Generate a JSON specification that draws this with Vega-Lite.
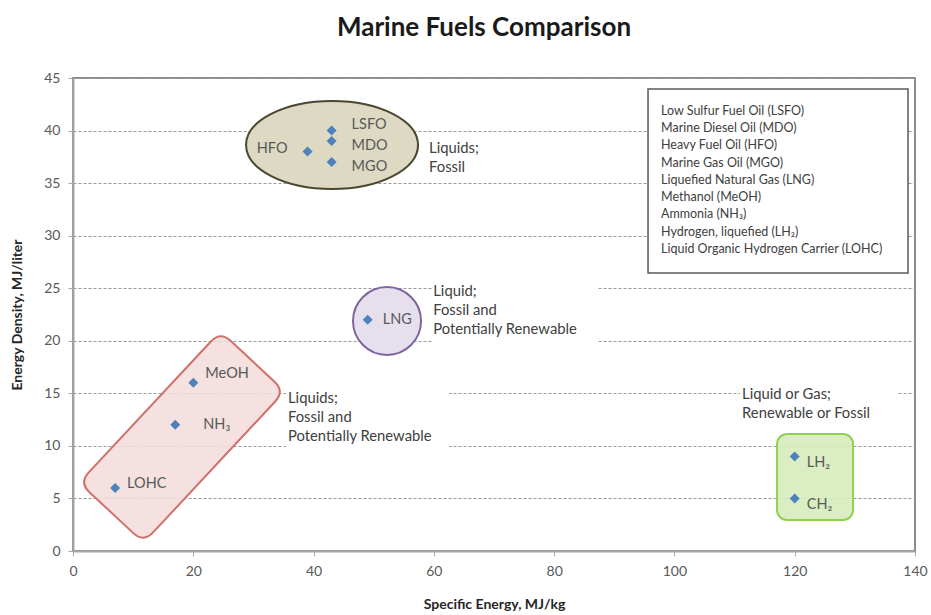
{
  "$schema": "https://vega.github.io/schema/vega-lite/v6.json",
  "width": 842,
  "height": 473,
  "autosize": {"type": "none"},
  "padding": {"left": 73, "top": 78, "right": 16, "bottom": 64},
  "background": "white",
  "config": {
    "font": "Lato",
    "view": {"stroke": "#8c8c8c", "strokeWidth": 2}
  },
  "title": {
    "text": "Marine Fuels Comparison",
    "fontSize": 26,
    "fontWeight": "bold",
    "color": "#1a1a1a",
    "anchor": "middle",
    "offset": 30,
    "dx": -10
  },
  "datasets": {
    "fuels": [
      {"fuel": "LSFO", "label": "LSFO", "specific_energy": 43, "energy_density": 40},
      {"fuel": "MDO", "label": "MDO", "specific_energy": 43, "energy_density": 39},
      {"fuel": "HFO", "label": "HFO", "specific_energy": 39, "energy_density": 38},
      {"fuel": "MGO", "label": "MGO", "specific_energy": 43, "energy_density": 37},
      {"fuel": "LNG", "label": "LNG", "specific_energy": 49, "energy_density": 22},
      {"fuel": "MeOH", "label": "MeOH", "specific_energy": 20, "energy_density": 16},
      {"fuel": "NH3", "label": "NH₃", "specific_energy": 17, "energy_density": 12},
      {"fuel": "LOHC", "label": "LOHC", "specific_energy": 7, "energy_density": 6},
      {"fuel": "LH2", "label": "LH₂", "specific_energy": 120, "energy_density": 9},
      {"fuel": "CH2", "label": "CH₂", "specific_energy": 120, "energy_density": 5}
    ],
    "regions": [
      {"region": "fossil_liquids", "specific_energy": 43.07, "energy_density": 38.63},
      {"region": "lng", "specific_energy": 52.21, "energy_density": 21.88},
      {"region": "alt_liquids", "specific_energy": 18.12, "energy_density": 10.85}
    ],
    "hydrogen_box": [
      {"specific_energy": 117.06, "specific_energy_end": 129.7, "energy_density": 2.95, "energy_density_end": 11.13}
    ],
    "note_backgrounds": [
      {"specific_energy": 59.69, "specific_energy_end": 87.13, "energy_density": 25.4, "energy_density_end": 19.31},
      {"specific_energy": 35.42, "specific_energy_end": 62.52, "energy_density": 15.89, "energy_density_end": 9.42},
      {"specific_energy": 110.9, "specific_energy_end": 137.2, "energy_density": 15.98, "energy_density_end": 12.46}
    ],
    "legend_box": [
      {"specific_energy": 95.61, "specific_energy_end": 138.84, "energy_density": 43.95, "energy_density_end": 26.45}
    ],
    "notes": [
      {"specific_energy": 59.2, "energy_density": 37.87, "note": "Liquids;\nFossil"},
      {"specific_energy": 59.9, "energy_density": 24.26, "note": "Liquid;\nFossil and\nPotentially Renewable"},
      {"specific_energy": 35.75, "energy_density": 14.08, "note": "Liquids;\nFossil and\nPotentially Renewable"},
      {"specific_energy": 111.24, "energy_density": 14.46, "note": "Liquid or Gas;\nRenewable or Fossil"}
    ],
    "legend_text": [
      {"specific_energy": 97.77, "energy_density": 41.48, "note": "Low Sulfur Fuel Oil (LSFO)\nMarine Diesel Oil (MDO)\nHeavy Fuel Oil (HFO)\nMarine Gas Oil (MGO)\nLiquefied Natural Gas (LNG)\nMethanol (MeOH)\nAmmonia (NH₃)\nHydrogen, liquefied (LH₂)\nLiquid Organic Hydrogen Carrier (LOHC)"}
    ]
  },
  "encoding": {
    "x": {
      "field": "specific_energy",
      "type": "quantitative",
      "title": "Specific Energy, MJ/kg",
      "scale": {"domain": [0, 140], "nice": false, "zero": true},
      "axis": {
        "values": [0, 20, 40, 60, 80, 100, 120, 140],
        "grid": false,
        "labelFlush": false,
        "labelOverlap": false,
        "labelFontSize": 14,
        "labelColor": "#595959",
        "labelPadding": 8,
        "tickSize": 5,
        "tickColor": "#a6a6a6",
        "domainColor": "#a6a6a6",
        "domainWidth": 2,
        "titleFontSize": 14,
        "titleFontWeight": "bold",
        "titleColor": "#262626",
        "titlePadding": 19
      }
    },
    "y": {
      "field": "energy_density",
      "type": "quantitative",
      "title": "Energy Density, MJ/liter",
      "scale": {"domain": [0, 45], "nice": false, "zero": true},
      "axis": {
        "values": [0, 5, 10, 15, 20, 25, 30, 35, 40, 45],
        "grid": true,
        "gridColor": "#9a9a9a",
        "gridDash": [3, 2],
        "gridWidth": 1,
        "labelFlush": false,
        "labelOverlap": false,
        "labelFontSize": 14,
        "labelColor": "#595959",
        "labelPadding": 8,
        "tickSize": 5,
        "tickColor": "#a6a6a6",
        "domainColor": "#a6a6a6",
        "domainWidth": 2,
        "titleFontSize": 14,
        "titleFontWeight": "bold",
        "titleColor": "#262626",
        "titlePadding": 19
      }
    }
  },
  "layer": [
    {
      "data": {"name": "note_backgrounds"},
      "mark": {"type": "rect", "fill": "white", "strokeWidth": 0},
      "encoding": {
        "x2": {"field": "specific_energy_end"},
        "y2": {"field": "energy_density_end"}
      }
    },
    {
      "data": {"name": "legend_box"},
      "mark": {"type": "rect", "fill": "white", "stroke": "#595959", "strokeWidth": 1.5},
      "encoding": {
        "x2": {"field": "specific_energy_end"},
        "y2": {"field": "energy_density_end"}
      }
    },
    {
      "data": {"name": "regions"},
      "transform": [{"filter": "datum.region === 'fossil_liquids'"}],
      "mark": {
        "type": "point",
        "shape": "M -1 0 C -1 -0.2826 -0.5523 -0.5116 0 -0.5116 C 0.5523 -0.5116 1 -0.2826 1 0 C 1 0.2826 0.5523 0.5116 0 0.5116 C -0.5523 0.5116 -1 0.2826 -1 0 Z",
        "size": 29584,
        "filled": true,
        "fill": "#ddd9c3",
        "fillOpacity": 1,
        "stroke": "#4a4630",
        "strokeWidth": 2,
        "opacity": 1
      }
    },
    {
      "data": {"name": "regions"},
      "transform": [{"filter": "datum.region === 'lng'"}],
      "mark": {
        "type": "point",
        "shape": "circle",
        "size": 4624,
        "filled": true,
        "fill": "#e6e0ec",
        "fillOpacity": 1,
        "stroke": "#8064a2",
        "strokeWidth": 2,
        "opacity": 1
      }
    },
    {
      "data": {"name": "regions"},
      "transform": [{"filter": "datum.region === 'alt_liquids'"}],
      "mark": {
        "type": "point",
        "shape": "M -0.865 -0.425 L 0.865 -0.425 Q 1 -0.425 1 -0.29 L 1 0.29 Q 1 0.425 0.865 0.425 L -0.865 0.425 Q -1 0.425 -1 0.29 L -1 -0.29 Q -1 -0.425 -0.865 -0.425 Z",
        "size": 42849,
        "angle": 313,
        "filled": true,
        "fill": "#f2dcdb",
        "fillOpacity": 0.85,
        "stroke": "#d0706c",
        "strokeWidth": 2,
        "opacity": 1
      }
    },
    {
      "data": {"name": "hydrogen_box"},
      "mark": {
        "type": "rect",
        "cornerRadius": 10,
        "fill": "#d7ebbb",
        "fillOpacity": 0.9,
        "stroke": "#92d050",
        "strokeWidth": 2
      },
      "encoding": {
        "x2": {"field": "specific_energy_end"},
        "y2": {"field": "energy_density_end"}
      }
    },
    {
      "data": {"name": "fuels"},
      "mark": {"type": "point", "shape": "diamond", "size": 100, "filled": true, "color": "#4f81bd", "opacity": 1}
    },
    {
      "data": {"name": "fuels"},
      "transform": [{"filter": {"field": "fuel", "oneOf": ["LSFO"]}}],
      "mark": {"type": "text", "align": "left", "dx": 20, "dy": -6, "fontSize": 14.5, "color": "#595959"},
      "encoding": {"text": {"field": "label"}}
    },
    {
      "data": {"name": "fuels"},
      "transform": [{"filter": {"field": "fuel", "oneOf": ["MeOH"]}}],
      "mark": {"type": "text", "align": "left", "dx": 12, "dy": -9, "fontSize": 14.5, "color": "#595959"},
      "encoding": {"text": {"field": "label"}}
    },
    {
      "data": {"name": "fuels"},
      "transform": [{"filter": {"field": "fuel", "oneOf": ["LOHC"]}}],
      "mark": {"type": "text", "align": "left", "dx": 12, "dy": -4, "fontSize": 14.5, "color": "#595959"},
      "encoding": {"text": {"field": "label"}}
    },
    {
      "data": {"name": "fuels"},
      "transform": [{"filter": {"field": "fuel", "oneOf": ["MDO", "MGO"]}}],
      "mark": {"type": "text", "align": "left", "dx": 20, "dy": 5, "fontSize": 14.5, "color": "#595959"},
      "encoding": {"text": {"field": "label"}}
    },
    {
      "data": {"name": "fuels"},
      "transform": [{"filter": {"field": "fuel", "oneOf": ["LNG"]}}],
      "mark": {"type": "text", "align": "left", "dx": 15, "dy": 0, "fontSize": 14.5, "color": "#595959"},
      "encoding": {"text": {"field": "label"}}
    },
    {
      "data": {"name": "fuels"},
      "transform": [{"filter": {"field": "fuel", "oneOf": ["NH3"]}}],
      "mark": {"type": "text", "align": "left", "dx": 28, "dy": 0, "fontSize": 14.5, "color": "#595959"},
      "encoding": {"text": {"field": "label"}}
    },
    {
      "data": {"name": "fuels"},
      "transform": [{"filter": {"field": "fuel", "oneOf": ["LH2", "CH2"]}}],
      "mark": {"type": "text", "align": "left", "dx": 12, "dy": 7, "fontSize": 14.5, "color": "#595959"},
      "encoding": {"text": {"field": "label"}}
    },
    {
      "data": {"name": "fuels"},
      "transform": [{"filter": {"field": "fuel", "oneOf": ["HFO"]}}],
      "mark": {"type": "text", "align": "right", "dx": -20, "dy": -3, "fontSize": 14.5, "color": "#595959"},
      "encoding": {"text": {"field": "label"}}
    },
    {
      "data": {"name": "notes"},
      "mark": {"type": "text", "align": "left", "baseline": "alphabetic", "lineBreak": "\n", "lineHeight": 19, "fontSize": 14.8, "color": "#404040"},
      "encoding": {"text": {"field": "note"}}
    },
    {
      "data": {"name": "legend_text"},
      "mark": {"type": "text", "align": "left", "baseline": "alphabetic", "lineBreak": "\n", "lineHeight": 17.25, "fontSize": 12.5, "color": "#404040"},
      "encoding": {"text": {"field": "note"}}
    }
  ]
}
